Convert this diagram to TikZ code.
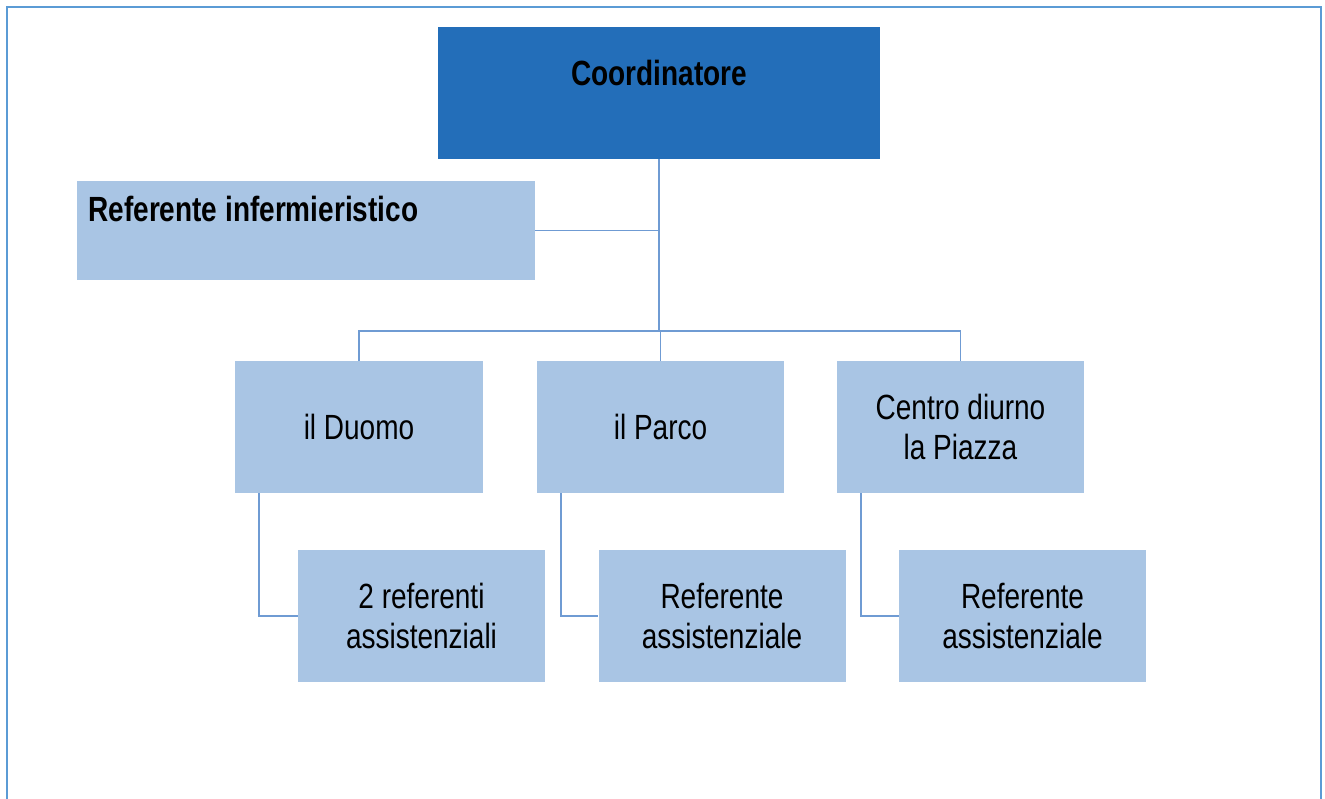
\documentclass[tikz,border=0pt]{standalone}
\usepackage{fontspec}
\setmainfont{Liberation Sans}
\newfontfamily\arialn{Liberation Sans}[FakeStretch=0.8]
\definecolor{darkbox}{HTML}{236EB9}
\definecolor{lightbox}{HTML}{A9C5E4}
\definecolor{linec}{HTML}{6F9BD3}
\definecolor{framec}{HTML}{5B9BD5}
\tikzset{
  box/.style={rectangle, fill=lightbox, draw=none, inner sep=0pt, minimum height=132pt, minimum width=247pt, align=center, font=\arialn\fontsize{35}{40}\selectfont},
  conn/.style={draw=linec, line width=1.6pt},
}
\begin{document}
\begin{tikzpicture}[x=1pt,y=-1pt]
\useasboundingbox (0,0) rectangle (1325,799);
\draw[framec, line width=2.8pt] (7,7) rectangle (1321,812);
\node[box, fill=darkbox, minimum width=442pt, label={[anchor=center, font=\arialn\bfseries\fontsize{35}{40}\selectfont, yshift=-46pt]north:Coordinatore}] (coord) at (659,93) {};
\node[box, minimum width=458pt, minimum height=99pt, label={[anchor=base west, font=\arialn\bfseries\fontsize{35}{40}\selectfont, xshift=8pt, yshift=-41pt]north west:Referente infermieristico}] (rinf) at (306,230.5) {};
\node[box, minimum width=248pt] (duomo) at (359,427) {il Duomo};
\node[box] (parco) at (660.5,427) {il Parco};
\node[box] (piazza) at (960.5,427) {Centro diurno\\la Piazza};
\node[box] (r1) at (421.5,616) {2 referenti\\assistenziali};
\node[box] (r2) at (722,616) {Referente\\assistenziale};
\node[box] (r3) at (1022.5,616) {Referente\\assistenziale};
\coordinate (j) at (659,331);
\draw[conn] (coord.south) -- (j);
\draw[conn] (rinf.east) -- (rinf.east -| coord.south);
\draw[conn] (duomo.north) |- (j) -| (piazza.north);
\draw[conn] (parco.north) -- (parco.north |- j);
\draw[conn] ([xshift=24pt]duomo.south west) |- (r1.west);
\draw[conn] ([xshift=24pt]parco.south west) |- (r2.west);
\draw[conn] ([xshift=24pt]piazza.south west) |- (r3.west);
\end{tikzpicture}
\end{document}
